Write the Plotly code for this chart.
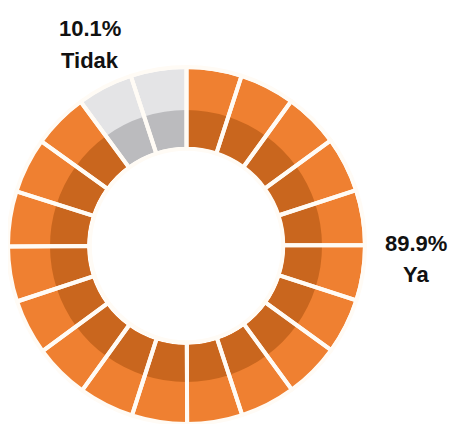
import plotly.graph_objects as go

# ---- data ----
labels = ["Ya", "Tidak"]
values = [89.9, 10.1]
pct_text = ["89.9%", "10.1%"]
segments = [18, 2]          # number of pictorial segments per category

# ---- styles ----
OFF = 8                     # default page body margin
W, H = 456 - 2 * OFF, 432 - 2 * OFF
cx, cy = 186 - OFF, 246 - OFF   # pixel centre within figure (from top)
R_out, R_mid, R_in = 177, 136, 99
light = {"Ya": "#EF8031", "Tidak": "#E4E4E6"}
dark = {"Ya": "#C9661E", "Tidak": "#BBBBBE"}
label_pos = {"Ya": (416, 243, 274), "Tidak": (90, 28, 60)}   # x, y line1, y line2 (screen px)

seg_vals, seg_light, seg_dark = [], [], []
for lab, val, n in zip(labels, values, segments):
    for i in range(n):
        seg_vals.append(val / n)
        seg_light.append(light[lab])
        seg_dark.append(dark[lab])

def dom(r):
    yb = H - cy
    clip = lambda v: min(max(v, 0.0), 1.0)
    return dict(x=[clip((cx - r) / W), clip((cx + r) / W)],
                y=[clip((yb - r) / H), clip((yb + r) / H)])

common = dict(values=seg_vals, sort=False, direction="clockwise", rotation=0,
              textinfo="none", hoverinfo="skip", showlegend=False)

fig = go.Figure()
# light full ring
fig.add_trace(go.Pie(**common, domain=dom(R_out), hole=R_in / R_out,
                     marker=dict(colors=seg_light, line=dict(width=0))))
# dark inner band
fig.add_trace(go.Pie(**common, domain=dom(R_mid), hole=R_in / R_mid,
                     marker=dict(colors=seg_dark, line=dict(width=0))))
# separators
fig.add_trace(go.Pie(**common, domain=dom(R_out + 2), hole=(R_in - 2) / (R_out + 2),
                     marker=dict(colors=["rgba(0,0,0,0)"] * len(seg_vals),
                                 line=dict(color="#FFFBF5", width=4))))

font = dict(family="Liberation Sans, Arial, sans-serif", size=22, color="#111111")
for lab, pct in zip(labels, pct_text):
    px, y1, y2 = label_pos[lab]
    for txt, py in ((pct, y1), (lab, y2)):
        fig.add_annotation(x=(px - OFF) / W, y=1 - (py - OFF) / H, xref="paper", yref="paper",
                           xanchor="center", yanchor="middle", text=f"<b>{txt}</b>",
                           showarrow=False, font=font, align="center")

fig.update_layout(width=W, height=H, margin=dict(l=0, r=0, t=0, b=0),
                  paper_bgcolor="white", plot_bgcolor="white")
fig.write_html("out.html")
